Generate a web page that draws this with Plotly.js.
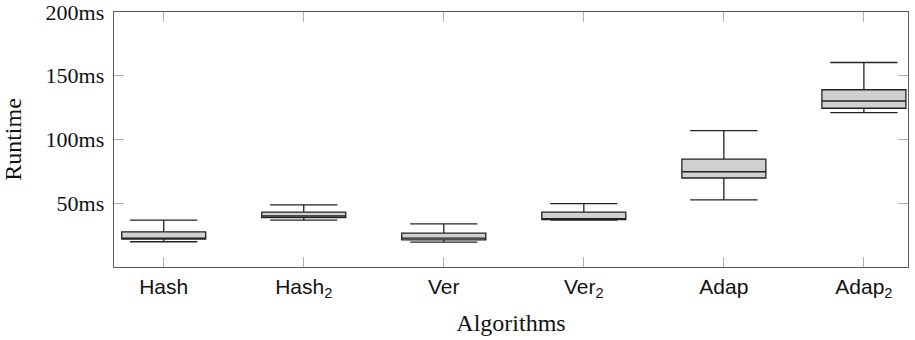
<!DOCTYPE html>
<html>
<head>
<meta charset="utf-8">
<script src="https://cdn.plot.ly/plotly-3.0.1.min.js"></script>
<style>
  html, body { margin: 0; padding: 0; background: #fff; }
  #chart { width: 915px; height: 340px; }
</style>
</head>
<body>
<div id="chart"></div>
<script>
// Runtime distribution per algorithm (milliseconds)
const algorithms = ['Hash', 'Hash<sub>2</sub>', 'Ver', 'Ver<sub>2</sub>', 'Adap', 'Adap<sub>2</sub>'];
const lowerWhisker = [19.8, 36.7, 19.5, 36.7, 52.6, 121.1];
const quartile1    = [21.9, 38.8, 21.3, 37.2, 69.8, 124.5];
const medians      = [22.7, 40.0, 22.6, 37.8, 74.7, 130.2];
const quartile3    = [27.6, 43.0, 26.6, 43.0, 84.6, 139.0];
const upperWhisker = [36.7, 48.7, 33.9, 49.7, 107.0, 160.4];

const yTickValues = [50, 100, 150, 200];
const yTickLabels = ['50ms', '100ms', '150ms', '200ms'];

const serif = 'Liberation Serif, Times New Roman, serif';
const sans = 'Liberation Sans, Arial, sans-serif';

const trace = {
  type: 'box',
  x: algorithms,
  lowerfence: lowerWhisker,
  q1: quartile1,
  median: medians,
  q3: quartile3,
  upperfence: upperWhisker,
  width: 0.6,
  whiskerwidth: 0.8,
  fillcolor: '#d0d0d0',
  line: { color: '#222222', width: 1.3 },
  boxpoints: false,
  hoverinfo: 'skip',
  showlegend: false
};

const layout = {
  width: 915,
  height: 340,
  margin: { l: 114, r: 7, t: 12, b: 73 },
  paper_bgcolor: '#ffffff',
  plot_bgcolor: '#ffffff',
  xaxis: {
    type: 'category',
    range: [-0.355, 5.315],
    showgrid: false,
    zeroline: false,
    showline: true,
    linecolor: '#5a5a5a',
    linewidth: 1.3,
    mirror: 'allticks',
    ticks: 'inside',
    ticklen: 10,
    tickwidth: 1,
    tickcolor: '#b0b0b0',
    tickfont: { family: sans, size: 21, color: '#111' },
    title: { text: 'Algorithms', font: { family: serif, size: 24, color: '#111' }, standoff: 14 },
    fixedrange: true
  },
  yaxis: {
    range: [0, 200],
    tickvals: yTickValues,
    ticktext: yTickLabels,
    showgrid: false,
    zeroline: false,
    showline: true,
    linecolor: '#5a5a5a',
    linewidth: 1.3,
    mirror: 'allticks',
    ticks: 'inside',
    ticklen: 10,
    tickwidth: 1,
    tickcolor: '#b0b0b0',
    ticklabelstandoff: 4,
    ticklabeloverflow: 'allow',
    tickfont: { family: serif, size: 22, color: '#111' },
    title: { text: 'Runtime', font: { family: serif, size: 24, color: '#111' }, standoff: 17 },
    fixedrange: true
  }
};

Plotly.newPlot('chart', [trace], layout, { staticPlot: true, displayModeBar: false });
</script>
</body>
</html>
